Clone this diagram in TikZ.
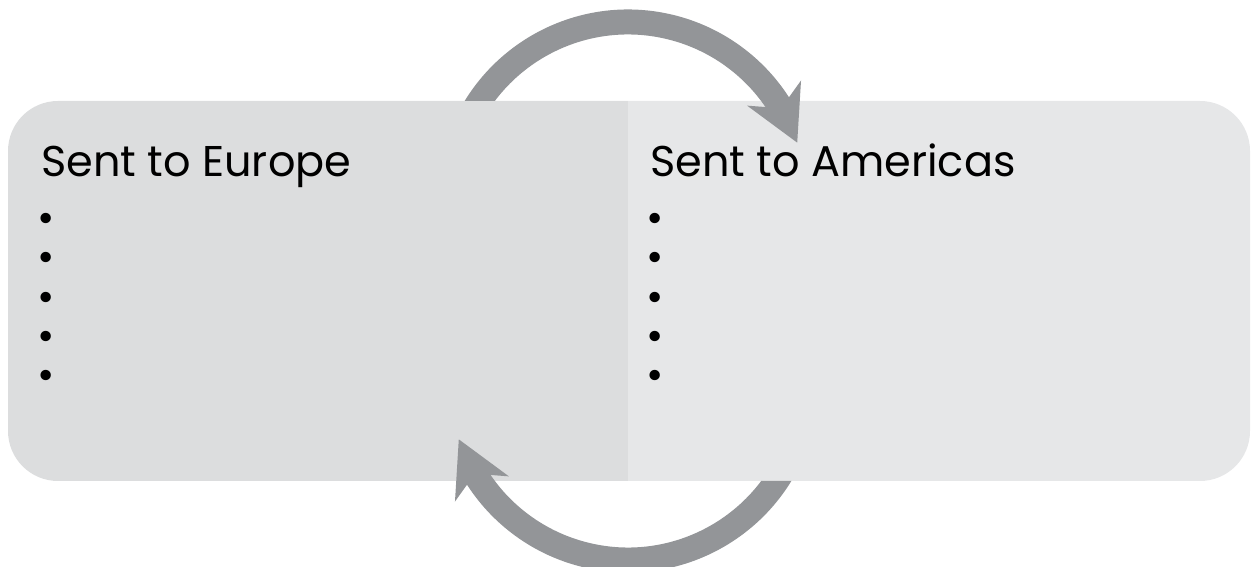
\documentclass[tikz,border=0pt]{standalone}
\usepackage{fontspec}
\setmainfont{Poppins}
\usepackage{tikz}
\usetikzlibrary{positioning}
\usetikzlibrary{arrows.meta,bending}
\usepackage{xcolor}

\definecolor{eurogrey}{HTML}{DCDDDE}
\definecolor{amergrey}{HTML}{E6E7E8}
\definecolor{loopgrey}{HTML}{939598}

\tikzset{
    loop arrow/.style={draw=loopgrey, line width=25pt, -{Stealth[length=54pt, width=58pt, inset=16pt]}},
    heading/.style={anchor=base west, inner sep=0pt, font=\fontsize{43}{50}\selectfont},
    bullet dot/.style={inner sep=0pt, text height=0.54em, text depth=0pt, font=\fontsize{42}{46}\selectfont}
}

\begin{document}
\begin{tikzpicture}[x=1pt, y=1pt]
    \useasboundingbox (0,0) rectangle (1251,567);

    % Panel halves
    \fill[eurogrey] (628,86) -- (58,86) arc[start angle=270, end angle=180, radius=50]
        -- (8,416) arc[start angle=180, end angle=90, radius=50] -- (628,466) -- cycle;
    \fill[amergrey] (628,86) -- (1200,86) arc[start angle=-90, end angle=0, radius=50]
        -- (1250,416) arc[start angle=0, end angle=90, radius=50] -- (628,466) -- cycle;

    % Loop centres
    \coordinate (top centre) at (628,366);
    \coordinate (bottom centre) at (628,186);

    % Upper arrow, hidden behind the left half
    \begin{scope}
        \clip (0,466) rectangle (1251,567) (628,0) rectangle (1251,567);
        \draw[loop arrow] ([shift={(165:179)}]top centre) arc[start angle=165, end angle=19, radius=179];
    \end{scope}

    % Lower arrow, hidden behind the right half
    \begin{scope}
        \clip (0,0) rectangle (1251,86) (0,0) rectangle (628,567);
        \draw[loop arrow] ([shift={(-15:179)}]bottom centre) arc[start angle=-15, end angle=-161, radius=179];
    \end{scope}

    % Headings
    \node[heading] (europe) at (41,390) {Sent to Europe};
    \node[heading] (americas) at (650,390) {Sent to Americas};

    % Bullets
    \foreach \k in {0,1,2,3,4} {
        \pgfmathsetmacro\y{337-39.3*\k}
        \node[bullet dot] (eu\k) at (46,\y) {\textbullet};
        \node[bullet dot] (am\k) at (655,\y) {\textbullet};
    }
\end{tikzpicture}
\end{document}
